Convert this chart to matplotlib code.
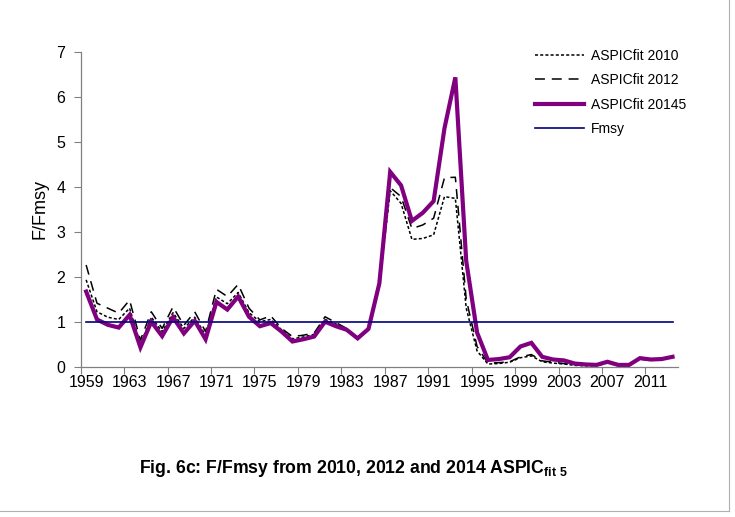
import numpy as np
import matplotlib
matplotlib.use('Agg')
import matplotlib.pyplot as plt
from matplotlib.lines import Line2D

plt.rcParams['font.family'] = ['Liberation Sans', 'DejaVu Sans']
plt.rcParams['mathtext.fontset'] = 'custom'
plt.rcParams['mathtext.rm'] = 'Liberation Sans'
plt.rcParams['mathtext.bf'] = 'Liberation Sans:bold'

# Data

years_2014 = list(range(1959, 2014))
fit_2014 = [1.67, 1.05, 0.93, 0.87, 1.15, 0.43, 1.00, 0.68, 1.10, 0.74,
            1.02, 0.61, 1.44, 1.27, 1.56, 1.11, 0.90, 0.97, 0.78, 0.56,
            0.61, 0.67, 1.00, 0.90, 0.82, 0.63, 0.84, 1.85, 4.33, 4.03,
            3.24, 3.42, 3.68, 5.30, 6.43, 2.35, 0.76, 0.15, 0.17, 0.21,
            0.45, 0.53, 0.22, 0.16, 0.14, 0.07, 0.05, 0.04, 0.11, 0.04,
            0.04, 0.19, 0.16, 0.17, 0.22]

years_2012 = list(range(1959, 2012))
fit_2012 = [2.26, 1.41, 1.30, 1.19, 1.48, 0.59, 1.22, 0.85, 1.33, 0.92,
            1.22, 0.78, 1.72, 1.56, 1.83, 1.30, 1.04, 1.13, 0.85, 0.67,
            0.70, 0.75, 1.11, 0.98, 0.85, 0.63, 0.85, 1.85, 3.98, 3.78,
            3.07, 3.15, 3.30, 4.20, 4.21, 1.50, 0.45, 0.08, 0.09, 0.11,
            0.22, 0.27, 0.13, 0.10, 0.07, 0.04, 0.03, 0.03, 0.10, 0.03,
            0.03, 0.17, 0.14]

years_2010 = list(range(1959, 2010))
fit_2010 = [1.93, 1.22, 1.10, 1.05, 1.30, 0.50, 1.10, 0.78, 1.20, 0.85,
            1.10, 0.70, 1.55, 1.40, 1.65, 1.20, 1.00, 1.05, 0.82, 0.62,
            0.66, 0.72, 1.05, 0.95, 0.84, 0.62, 0.84, 1.80, 3.91, 3.63,
            2.83, 2.85, 2.93, 3.78, 3.74, 1.30, 0.35, 0.06, 0.07, 0.10,
            0.20, 0.24, 0.11, 0.08, 0.06, 0.03, 0.02, 0.02, 0.08, 0.02,
            0.02]

fmsy = 1.0
tick_years = list(range(1959, 2014, 4))

######################### PLOTTING #########################

fig = plt.figure(figsize=(7.35, 5.17), dpi=100)
ax = fig.add_axes([0.1098, 0.2907, 0.8126, 0.6093])

ax.plot(years_2010, fit_2010, color='black', linewidth=1.1, dashes=(2.0, 1.4))
ax.plot(years_2012, fit_2012, color='black', linewidth=1.1, dashes=(6.5, 4.5))
ax.plot(years_2014, fit_2014, color='#800080', linewidth=3.0, solid_joinstyle='miter')
ax.plot([years_2014[0], years_2014[-1]], [fmsy, fmsy], color='#000080', linewidth=1.2)

ax.set_xlim(1958.5, 2013.5)
ax.set_ylim(0, 7)
ax.set_yticks(range(0, 8))

# category-style axis: ticks between years, labels on the year
ax.set_xticks([y - 0.5 for y in tick_years])
ax.set_xticklabels([])
ax.set_xticks(tick_years, minor=True)
ax.set_xticklabels([str(y) for y in tick_years], minor=True)
ax.tick_params(axis='x', which='major', direction='out', length=5, width=0.8, color='#808080')
ax.tick_params(axis='x', which='minor', length=0, pad=6, labelsize=11.5)
ax.tick_params(axis='y', direction='out', length=5, width=0.8, color='#808080', labelsize=11.5, pad=6)

for s in ['top', 'right']:
    ax.spines[s].set_visible(False)
for s in ['left', 'bottom']:
    ax.spines[s].set_color('#808080')
    ax.spines[s].set_linewidth(0.9)

ax.set_ylabel('F/Fmsy', fontsize=13, labelpad=6)

handles = [
    Line2D([], [], color='black', linewidth=1.1, dashes=(2.0, 1.4)),
    Line2D([], [], color='black', linewidth=1.1, dashes=(6.5, 4.5)),
    Line2D([], [], color='#800080', linewidth=3.0),
    Line2D([], [], color='#000080', linewidth=1.2),
]
labels = ['ASPICfit 2010', 'ASPICfit 2012', 'ASPICfit 20145', 'Fmsy']
fig.legend(handles, labels, loc='upper left', bbox_to_anchor=(0.711, 0.930),
           frameon=False, fontsize=10, handlelength=3.5, handletextpad=0.5,
           labelspacing=0.75)

fig.text(0.189, 0.093, 'Fig. 6c: F/Fmsy from 2010, 2012 and 2014 ASPIC$_{\\mathbf{fit\\ 5}}$',
         fontsize=12.7, fontweight='bold', ha='left', va='center')

# thin border at right and bottom of the chart area
fig.add_artist(Line2D([0.9925, 0.9925], [0.012, 1.0], transform=fig.transFigure,
                      color='#b0b0b0', linewidth=0.8))
fig.add_artist(Line2D([0.0, 0.9925], [0.012, 0.012], transform=fig.transFigure,
                      color='#b0b0b0', linewidth=0.8))

fig.savefig('out.png', dpi=100)
